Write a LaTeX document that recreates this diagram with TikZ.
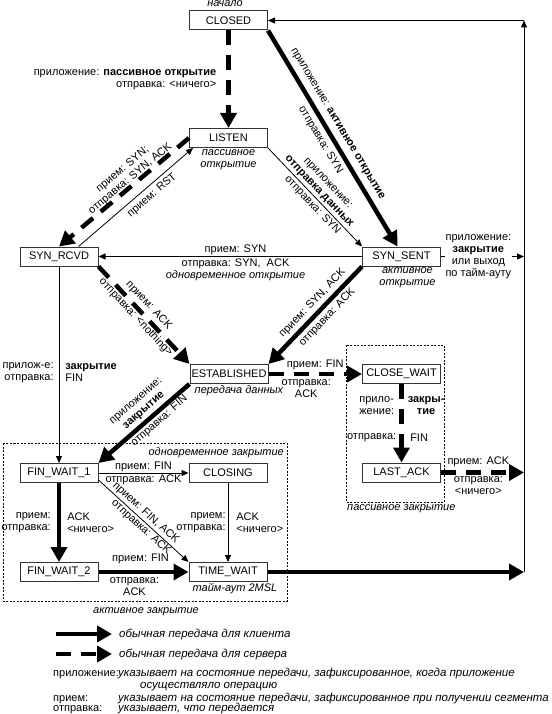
\documentclass[tikz,border=0pt]{standalone}
\usepackage{fontspec}
\setmainfont{Liberation Sans}
\usetikzlibrary{arrows.meta}

\begin{document}
\begin{tikzpicture}[x=1pt,y=-1pt,
	font=\fontsize{11}{12}\selectfont,
	state/.style={draw=black!80,line width=1pt,minimum width=78pt,minimum height=19pt,inner sep=0},
	lbl/.style={inner sep=1pt,align=center},
	note/.style={lbl,font=\fontsize{11}{12}\selectfont\itshape},
	key/.style={note,anchor=base west,font=\fontsize{11.5}{12}\selectfont\itshape},
	cli/.style={line width=4.5pt,-{Triangle[length=15pt,width=16pt]}},
	srv/.style={cli,dash pattern=on 15pt off 10pt},
	tarr/.style={line width=0.8pt,-{Triangle[length=7pt,width=6pt]}},
	zone/.style={draw,line width=0.6pt,dash pattern=on 2pt off 1.5pt},
]
\useasboundingbox (0,0) rectangle (551,714);
% states
\node[state] (closed) at (228.5,20.5) {CLOSED};
\node[state] (listen) at (228.5,138) {LISTEN};
\node[state] (synrcvd) at (59,256.5) {SYN\_RCVD};
\node[state] (synsent) at (401.5,256.5) {SYN\_SENT};
\node[state] (establ) at (229,374) {ESTABLISHED};
\node[state] (closewait) at (401.5,374) {CLOSE\_WAIT};
\node[state] (lastack) at (401.5,472.5) {LAST\_ACK};
\node[state] (finwait1) at (59,473) {FIN\_WAIT\_1};
\node[state] (closing) at (228,473) {CLOSING};
\node[state] (finwait2) at (59,572) {FIN\_WAIT\_2};
\node[state] (timewait) at (228,572) {TIME\_WAIT};
% closing areas
\draw[zone] (3,443) rectangle (287,601);
\draw[zone] (346,345) rectangle (444,502);
\node[note] (start) at (225,4) {начало};
\node[note,anchor=north] (listennote) at (listen.south) {пассивное\\открытие};
\node[note,anchor=north] (sentnote) at ([xshift=6pt]synsent.south) {активное\\открытие};
\node[note,anchor=north west] (estnote) at ([xshift=4pt]establ.south west) {передача данных};
\node[note,anchor=east] (simclose) at (285,453) {одновременное закрытие};
\node[note,anchor=north] (twnote) at ([xshift=7pt]timewait.south) {тайм-аут 2MSL};
\node[note] (actclose) at (146,612) {активное закрытие};
\node[note,anchor=north west] (pasclose) at (346,503) {пассивное закрытие};
\coordinate (rtop) at (524,20.5);
\coordinate (rbot) at (524,572);
% transitions
\draw[srv] (closed) -- node[lbl,left=9pt,align=right] {приложение: \textbf{пассивное открытие}\\отправка: <ничего>} (listen);
\draw[cli] (closed.south east) -- node[lbl,sloped,above=4pt,pos=0.46] {приложение: \textbf{активное открытие}}
	node[lbl,sloped,below=3pt,pos=0.48] {отправка: SYN} ([xshift=-4pt]synsent.north);
\draw[tarr] (listen.south east) -- node[lbl,sloped,above=1pt,pos=0.49] {приложение:\\\textbf{отправка данных}}
	node[lbl,sloped,below=1pt,pos=0.53] {отправка: SYN} (synsent.north west);
\draw[srv] (listen.west) -- node[lbl,sloped,above=-2pt,pos=0.42] {прием: SYN;\\отправка: SYN, ACK} (synrcvd.north);
\draw[tarr] ([xshift=-20pt]synrcvd.north east) -- node[lbl,sloped,below=3pt,pos=0.59] {прием: RST} ([xshift=4pt]listen.south west);
\draw[tarr] (synsent) -- node[lbl,above,pos=0.48] {прием: SYN}
	node[lbl,below=1pt,pos=0.48] {отправка: SYN,\ \ ACK\\\textit{одновременное открытие}} (synrcvd);
\draw[srv] (synrcvd.south east) -- node[lbl,sloped,above=2pt,pos=0.47] {прием: ACK}
	node[lbl,sloped,below=-1pt,pos=0.47] {отправка: <nothing>} (establ.north west);
\draw[cli] (synsent.south west) -- node[lbl,sloped,above=2pt,pos=0.45] {прием: SYN, ACK}
	node[lbl,sloped,below=2pt,pos=0.45] {отправка: ACK} (establ.north east);
\draw[srv] (establ) -- node[lbl,above=1pt] {прием: FIN}
	node[lbl,below=2pt,xshift=-9pt] {отправка:\\ACK} (closewait);
\draw[cli] (establ.south west) -- node[lbl,sloped,above=2pt,pos=0.43] {приложение:\\\textbf{закрытие}}
	node[lbl,sloped,below=0pt,pos=0.39] {отправка: FIN} (finwait1.north east);
\draw[tarr] (synrcvd) -- node[lbl,left=4pt,pos=0.54,align=right] {прилож-е:\\отправка:}
	node[lbl,right=5pt,pos=0.54,align=left] {\textbf{закрытие}\\FIN} (finwait1);
\draw[srv] (closewait) -- node[lbl,left=4pt,pos=0.27,align=left] {прило-\\жение:}
	node[lbl,right=3pt,pos=0.27] {\textbf{закры-}\\\textbf{тие}}
	node[lbl,left=2pt,pos=0.68] {отправка:}
	node[lbl,right=5.5pt,pos=0.68] {FIN} (lastack);
\draw[srv] (lastack) -- node[lbl,above=2pt,pos=0.45] {прием: ACK}
	node[lbl,below=1pt,pos=0.45] {отправка:\\<ничего>} (lastack -| rtop);
\draw[tarr] (finwait1) -- node[lbl,above=0pt] {прием: FIN} node[lbl,below=0pt] {отправка: ACK} (closing);
\draw[cli] (finwait1) -- node[lbl,left=5pt,align=right] {прием:\\отправка:}
	node[lbl,right=5pt,align=left] {ACK\\<ничего>} (finwait2);
\draw[tarr] (closing) -- node[lbl,left=1pt,align=right] {прием:\\отправка:}
	node[lbl,right=7pt,align=left] {ACK\\<ничего>} (timewait);
\draw[tarr] ([yshift=3pt]finwait1.south east) -- node[lbl,sloped,above=1pt,pos=0.47] {прием: FIN, ACK}
	node[lbl,sloped,below=0pt,pos=0.52] {отправка: ACK} (timewait.north west);
\draw[cli] (finwait2) -- node[lbl,above=5pt,xshift=-3pt] {прием: FIN}
	node[lbl,below=2pt,xshift=-9pt] {отправка:\\ACK} (timewait);
% back to CLOSED
\draw[cli] (timewait) -- (timewait -| rbot);
\draw[tarr] (synsent) -- node[lbl,fill=white,pos=0.45] {приложение:\\\textbf{закрытие}\\или выход\\по тайм-ауту} (synsent -| rtop);
\draw[tarr] (rbot) -- (rtop);
\draw[tarr] (rtop) -- (closed);
% legend
\coordinate (k1) at (56,634);
\node[note,anchor=west,font=\fontsize{11.5}{12}\selectfont\itshape] (kcli) at (118,634) {обычная передача для клиента};
\draw[cli] (k1) -- ([xshift=-6pt]kcli.west);
\coordinate (k2) at (56,654);
\node[note,anchor=west,font=\fontsize{11.5}{12}\selectfont\itshape] (ksrv) at (118,654) {обычная передача для сервера};
\draw[srv] (k2) -- ([xshift=-6pt]ksrv.west);
\node[lbl,anchor=base west] (kapp) at (52,676) {приложение:};
\node[key] (dapp) at (117,676) {указывает на состояние передачи, зафиксированное, когда приложение};
\node[key] (dapp2) at (139,688) {осуществляло операцию};
\node[lbl,anchor=base west] (krcv) at (52,701) {прием:};
\node[key] (drcv) at (117,701) {указывает на состояние передачи, зафиксированное при получении сегмента};
\node[lbl,anchor=base west] (ksnd) at (52,711) {отправка:};
\node[key] (dsnd) at (117,711) {указывает, что передается};
\end{tikzpicture}
\end{document}
